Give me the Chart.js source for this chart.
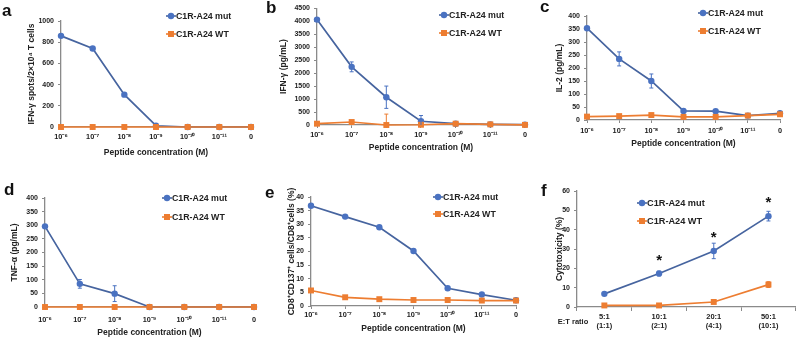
<!DOCTYPE html>
<html><head><meta charset="utf-8">
<script src="https://cdn.jsdelivr.net/npm/chart.js@4/dist/chart.umd.min.js"></script>
<style>
html,body{margin:0;padding:0;background:#fff;}
body{width:800px;height:340px;overflow:hidden;position:relative;}
canvas{position:absolute;}
.lbl{position:absolute;font:bold 17px "Liberation Sans",Arial,sans-serif;line-height:1;color:#111;}
</style></head><body>
<canvas id="ca" width="265" height="170" style="left:0;top:0"></canvas>
<canvas id="cb" width="265" height="170" style="left:265px;top:0"></canvas>
<canvas id="cc" width="270" height="170" style="left:530px;top:0"></canvas>
<canvas id="cd" width="265" height="170" style="left:0;top:170px"></canvas>
<canvas id="ce" width="265" height="170" style="left:265px;top:170px"></canvas>
<canvas id="cf" width="270" height="170" style="left:530px;top:170px"></canvas>
<div class="lbl" style="left:2px;top:2px">a</div>
<div class="lbl" style="left:266px;top:-1px">b</div>
<div class="lbl" style="left:540px;top:-2px">c</div>
<div class="lbl" style="left:4px;top:181px">d</div>
<div class="lbl" style="left:265px;top:184px">e</div>
<div class="lbl" style="left:541px;top:182px">f</div>
<script>
// ---- data ----
const concLabels = ['10⁻⁶','10⁻⁷','10⁻⁸','10⁻⁹','10⁻¹⁰','10⁻¹¹','0'];
const etLabels = [['5:1','(1:1)'],['10:1','(2:1)'],['20:1','(4:1)'],['50:1','(10:1)']];
const seriesNames = ['C1R-A24 mut','C1R-A24 WT'];

const aMut = [860, 740, 305, 12, 0, 0, 0];
const aWT  = [0, 0, 0, 0, 0, 0, 0];

const bMut    = [4060, 2240, 1070, 145, 50, 25, 15];
const bMutErr = [0, 190, 430, 220, 0, 0, 0];
const bWT     = [50, 115, 0, 10, 50, 25, 5];
const bWTErr  = [0, 60, 420, 0, 0, 0, 0];

const cMut    = [353, 235, 150, 35, 34, 17, 26];
const cMutErr = [0, 27, 27, 0, 0, 0, 0];
const cWT     = [13, 15, 19, 12, 12, 17, 22];

const dMut    = [296, 85, 49, 0, 0, 0, 0];
const dMutErr = [0, 16, 29, 0, 0, 0, 0];
const dWT     = [0, 0, 0, 0, 0, 0, 0];

const eMut = [36.8, 32.8, 28.9, 20.2, 6.5, 4.2, 2.1];
const eWT  = [5.7, 3.2, 2.5, 2.2, 2.2, 2.0, 2.0];

const fMut    = [6.8, 17.3, 29, 47];
const fMutErr = [0, 1.2, 4, 2.5];
const fWT     = [0.8, 0.8, 2.6, 11.6];
const fWTErr  = [0, 0, 0, 1.5];
const fSig    = ['', '*', '*', '*'];

const xTitleText = 'Peptide concentration (M)';

// ---- style ----
const FONT = "'Liberation Sans', Arial, sans-serif";
const COL = {blueLine:'#46649f', blue:'#4a72c1', orange:'#ed7d31', axis:'#8a8a8a', text:'#222'};

function drawMarker(ctx, style, x, y, color){
  ctx.fillStyle = color;
  ctx.beginPath();
  if (style === 'rect') ctx.rect(x-3, y-3, 6, 6);
  else ctx.arc(x, y, 3.2, 0, Math.PI*2);
  ctx.fill();
}

const errorBars = {
  id:'errorBars',
  afterDatasetsDraw(chart){
    const ctx = chart.ctx, ys = chart.scales.y;
    chart.data.datasets.forEach((d, di) => {
      if (!d.errors) return;
      const meta = chart.getDatasetMeta(di);
      ctx.save();
      ctx.strokeStyle = d.pointBackgroundColor; ctx.lineWidth = 1;
      meta.data.forEach((pt, i) => {
        const e = d.errors[i]; if (!e) return;
        const v = d.data[i];
        const yt = ys.getPixelForValue(v + e);
        const lo = v - e;
        const yb = ys.getPixelForValue(Math.max(lo, ys.min));
        ctx.beginPath();
        ctx.moveTo(pt.x, yt); ctx.lineTo(pt.x, yb);
        ctx.moveTo(pt.x-2, yt); ctx.lineTo(pt.x+2, yt);
        if (lo >= ys.min) { ctx.moveTo(pt.x-2, yb); ctx.lineTo(pt.x+2, yb); }
        ctx.stroke();
      });
      ctx.restore();
    });
  }
};

const lineLegend = {
  id:'lineLegend',
  afterDraw(chart, args, opts){
    if (opts.x === undefined) return;
    const ctx = chart.ctx;
    const list = chart.data.datasets.slice().sort((a,b)=> seriesNames.indexOf(a.label) - seriesNames.indexOf(b.label));
    list.forEach((d, i) => {
      const cx = opts.x, cy = opts.y + i*opts.dy;
      ctx.save();
      ctx.strokeStyle = d.borderColor; ctx.lineWidth = 1.6;
      ctx.beginPath(); ctx.moveTo(cx-5, cy); ctx.lineTo(cx+5, cy); ctx.stroke();
      drawMarker(ctx, d.pointStyle, cx, cy, d.pointBackgroundColor);
      ctx.fillStyle = COL.text; ctx.font = 'bold ' + opts.size + 'px ' + FONT;
      ctx.textBaseline = 'middle'; ctx.textAlign = 'left';
      ctx.fillText(d.label, cx + 5, cy + 0.5);
      ctx.restore();
    });
  }
};

const extras = {
  id:'extras',
  afterDraw(chart, args, opts){
    const ctx = chart.ctx;
    if (opts.etLabel){
      const xs = chart.scales.x;
      ctx.save();
      ctx.fillStyle = COL.text; ctx.font = 'bold 7.5px ' + FONT;
      ctx.textAlign = 'center'; ctx.textBaseline = 'middle';
      ctx.fillText(opts.etLabel, chart.chartArea.left - 4, xs.top + 15);
      ctx.restore();
    }
    if (opts.sig){
      // significance marks belong to the mut series
      const idx = chart.data.datasets.findIndex(d => d.label === seriesNames[0]);
      const meta = chart.getDatasetMeta(idx), d = chart.data.datasets[idx], ys = chart.scales.y;
      ctx.save();
      ctx.fillStyle = '#111'; ctx.font = 'bold 15px ' + FONT;
      ctx.textAlign = 'center'; ctx.textBaseline = 'alphabetic';
      meta.data.forEach((pt, i) => {
        if (!opts.sig[i]) return;
        const yc = ys.getPixelForValue(d.data[i]) - 18;
        ctx.fillText(opts.sig[i], pt.x, yc + 9);
      });
      ctx.restore();
    }
  }
};

function ds(label, data, errors, kind){
  const blue = kind === 'mut';
  return {
    label, data, errors,
    borderColor: blue ? COL.blueLine : COL.orange,
    backgroundColor: blue ? COL.blue : COL.orange,
    pointBackgroundColor: blue ? COL.blue : COL.orange,
    pointBorderWidth: 0,
    pointStyle: blue ? 'circle' : 'rect',
    pointRadius: blue ? 3.2 : 4.2,
    borderWidth: 1.7,
    tension: 0,
    clip: false
  };
}

function makePanel(p){
  const canvas = document.getElementById(p.id);
  const [al, at, ar, ab] = p.area;
  const tickFont = {family: FONT, size: 7, weight: 'bold'};
  const titleFont = {family: FONT, size: 8.5, weight: 'bold'};
  new Chart(canvas, {
    type: 'line',
    data: {
      labels: p.labels,
      // WT first so the mut series is drawn on top
      datasets: [ds(seriesNames[1], p.wt, p.wtErr, 'wt'), ds(seriesNames[0], p.mut, p.mutErr, 'mut')]
    },
    plugins: [errorBars, lineLegend, extras],
    options: {
      responsive: false, animation: false, events: [],
      layout: {padding: {left: 0, top: at, right: canvas.width - ar, bottom: 0}},
      plugins: {
        legend: {display: false}, tooltip: {enabled: false},
        lineLegend: {x: p.legend[0], y: p.legend[1], dy: p.legend[2], size: p.legendSize || 8.8},
        extras: {etLabel: p.etLabel, sig: p.sig}
      },
      scales: {
        x: {
          offset: !!p.offset,
          grid: {display: true, drawOnChartArea: false, drawTicks: true, tickLength: p.xTickLen, color: COL.axis, offset: !!p.offset, lineWidth: 1},
          border: {display: true, color: COL.axis, width: 1.3},
          ticks: {font: {family: FONT, size: p.xTickSize || 7.3, weight: 'bold'}, color: COL.text, padding: p.xTickPad, autoSkip: false, maxRotation: 0},
          title: p.xTitle ? {display: true, text: p.xTitle, font: titleFont, color: COL.text, padding: {top: 0, bottom: p.xTitlePad}} : {display: false},
          afterFit: s => { s.height = canvas.height - ab; }
        },
        y: {
          min: 0, max: p.yMax,
          grid: {display: true, drawOnChartArea: false, drawTicks: true, tickLength: 3, color: COL.axis},
          border: {display: true, color: COL.axis, width: 1.3},
          ticks: {stepSize: p.yStep, font: tickFont, color: COL.text, padding: 4, autoSkip: false, callback: v => String(v)},
          title: {display: true, text: p.yTitle, font: titleFont, color: COL.text, padding: {top: p.yTitlePad, bottom: 0}},
          afterFit: s => { s.width = al; }
        }
      }
    }
  });
}

makePanel({id:'ca', labels: concLabels, mut: aMut, wt: aWT, area:[61,21,251,127], yMax:1000, yStep:200,
  yTitle:'IFN-γ spots/2×10⁴ T cells', yTitlePad:27, xTitle: xTitleText, xTitlePad:12, xTickPad:3, xTickLen:3, legend:[171,16,18]});
makePanel({id:'cb', labels: concLabels, mut: bMut, mutErr: bMutErr, wt: bWT, wtErr: bWTErr, area:[52,7,260,125], yMax:4500, yStep:500,
  yTitle:'IFN-γ (pg/mL)', yTitlePad:14, xTitle: xTitleText, xTitlePad:17, xTickPad:3, xTickLen:3, legend:[179,15,18]});
makePanel({id:'cc', labels: concLabels, mut: cMut, mutErr: cMutErr, wt: cWT, area:[57,16,250,120], yMax:400, yStep:50,
  yTitle:'IL-2 (pg/mL)', yTitlePad:25, xTitle: xTitleText, xTitlePad:21, xTickPad:4, xTickLen:3, legend:[173,13,18]});
makePanel({id:'cd', labels: concLabels, mut: dMut, mutErr: dMutErr, wt: dWT, area:[45,28,254,137], yMax:400, yStep:50,
  yTitle:'TNF-α (pg/mL)', yTitlePad:10, xTitle: xTitleText, xTitlePad:2, xTickPad:6, xTickLen:3, legend:[167,28,19]});
makePanel({id:'ce', labels: concLabels, mut: eMut, wt: eWT, area:[46,27,251,136], yMax:40, yStep:5,
  yTitle:'CD8⁺CD137⁺ cells/CD8⁺cells (%)', yTitlePad:22, xTitle: xTitleText, xTitlePad:6, xTickPad:2, xTickLen:3, legend:[173,27,17]});
makePanel({id:'cf', labels: etLabels, mut: fMut, mutErr: fMutErr, wt: fWT, wtErr: fWTErr, area:[47,21,267,137], yMax:60, yStep:10,
  yTitle:'Cytotoxicity (%)', yTitlePad:25, xTitle: null, xTickPad:1, xTickLen:4, xTickSize:7.5, offset:true,
  legend:[112,33,18], legendSize:9.2, etLabel:'E:T ratio', sig: fSig});
</script>
</body></html>
